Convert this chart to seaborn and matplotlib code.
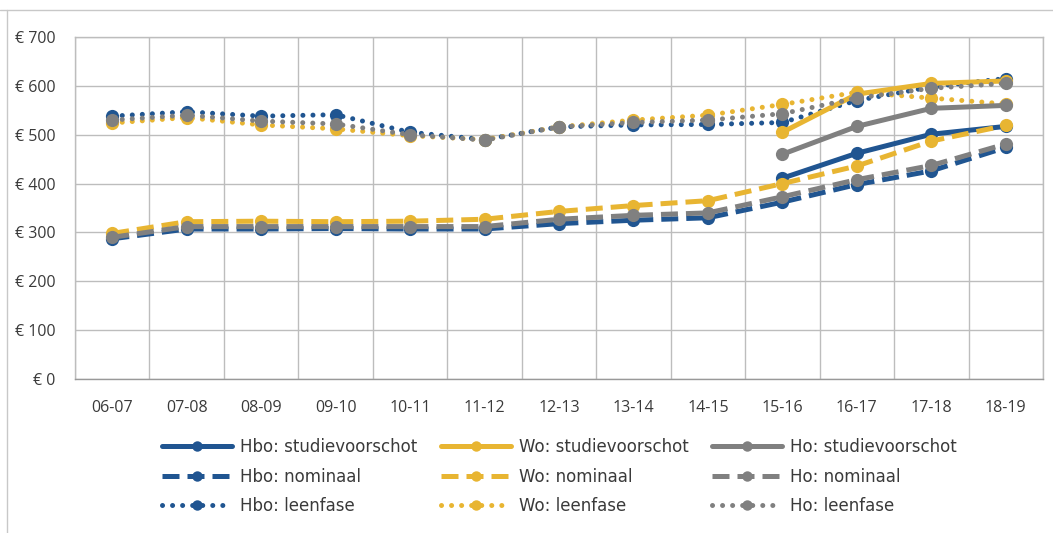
import matplotlib
matplotlib.use('Agg')
import matplotlib.pyplot as plt
from matplotlib.lines import Line2D
from matplotlib.ticker import MultipleLocator, FuncFormatter
import numpy as np
import seaborn as sns

sns.set_style('white')
plt.rcParams['font.family'] = ['Open Sans', 'DejaVu Sans']

# data
jaren = ['06-07', '07-08', '08-09', '09-10', '10-11', '11-12', '12-13',
         '13-14', '14-15', '15-16', '16-17', '17-18', '18-19']
nan = np.nan
hbo_studievoorschot = [nan, nan, nan, nan, nan, nan, nan, nan, nan, 411, 462, 501, 517]
wo_studievoorschot = [nan, nan, nan, nan, nan, nan, nan, nan, nan, 505, 583, 605, 610]
ho_studievoorschot = [nan, nan, nan, nan, nan, nan, nan, nan, nan, 460, 517, 554, 560]
hbo_nominaal = [287, 307, 307, 308, 307, 307, 318, 325, 330, 362, 398, 426, 474]
wo_nominaal = [298, 322, 323, 322, 323, 327, 343, 355, 365, 400, 436, 487, 519]
ho_nominaal = [290, 312, 312, 312, 312, 312, 327, 335, 340, 373, 408, 437, 481]
hbo_leenfase = [538, 547, 538, 541, 505, 490, 516, 520, 521, 525, 570, 598, 615]
wo_leenfase = [524, 535, 520, 512, 498, 490, 516, 530, 540, 562, 587, 575, 563]
ho_leenfase = [530, 540, 528, 522, 500, 489, 516, 525, 530, 543, 575, 595, 605]

blauw = '#205591'
geel = '#E8B532'
grijs = '#808080'

idx = np.arange(len(jaren))

fig = plt.figure(figsize=(10.53, 5.33), dpi=100)
ax = fig.add_axes([0.0712, 0.2889, 0.9193, 0.6417])

stippel = (0, (0.01, 2.0))
streep = (0, (3.4, 1.6))

reeksen = [
    (hbo_studievoorschot, blauw, '-', 'Hbo: studievoorschot'),
    (hbo_nominaal, blauw, streep, 'Hbo: nominaal'),
    (hbo_leenfase, blauw, stippel, 'Hbo: leenfase'),
    (wo_studievoorschot, geel, '-', 'Wo: studievoorschot'),
    (wo_nominaal, geel, streep, 'Wo: nominaal'),
    (wo_leenfase, geel, stippel, 'Wo: leenfase'),
    (ho_studievoorschot, grijs, '-', 'Ho: studievoorschot'),
    (ho_nominaal, grijs, streep, 'Ho: nominaal'),
    (ho_leenfase, grijs, stippel, 'Ho: leenfase'),
]

handles = []
for waarden, kleur, stijl, naam in reeksen:
    w = np.array(waarden, dtype=float)
    ok = ~np.isnan(w)
    kap = 'round' if stijl == stippel else 'butt'
    sns.lineplot(x=idx[ok], y=w[ok], ax=ax, color=kleur, linewidth=3.6,
                 marker='o', markersize=9.5, markeredgewidth=0,
                 legend=False)
    lijn = ax.lines[-1]
    lijn.set_linestyle(stijl)
    lijn.set_dash_capstyle(kap)
    lijn.set_solid_capstyle('round')
    handles.append(Line2D([], [], color=kleur, linewidth=3.6, linestyle=stijl,
                          dash_capstyle=kap, marker='o', markersize=7.5,
                          markeredgewidth=0, label=naam))

ax.set_xlim(-0.5, 12.5)
ax.set_ylim(0, 700)
ax.set_xticks(idx)
ax.set_xticklabels(jaren)
ax.xaxis.set_minor_locator(MultipleLocator(1, offset=0.5))
ax.yaxis.set_major_locator(MultipleLocator(100))
ax.yaxis.set_major_formatter(FuncFormatter(lambda v, p: '€ %d' % v))
ax.grid(which='major', axis='y', color='#bdbdbd', linewidth=1)
ax.grid(which='minor', axis='x', color='#bdbdbd', linewidth=1)
ax.tick_params(axis='both', which='both', length=0, labelsize=11.5,
               labelcolor='#3a3a3a')
ax.tick_params(axis='x', pad=15)
ax.tick_params(axis='y', pad=14)
for s in ax.spines.values():
    s.set_color('#bdbdbd')
    s.set_linewidth(1)
ax.spines['bottom'].set_color('#999999')
ax.set_xlabel('')
ax.set_ylabel('')

# legenda: kolom per onderwijssoort
leg = fig.legend(handles=handles, ncol=3, loc='upper left',
                 bbox_to_anchor=(0.146, 0.194), frameon=False,
                 prop={'family': ['DejaVu Sans'], 'size': 12},
                 handlelength=4.2, handletextpad=0.48,
                 columnspacing=1.4, labelspacing=0.7, borderpad=0)
for t in leg.get_texts():
    t.set_color('#3a3a3a')

# kader van de grafiek
fig.add_artist(Line2D([0, 1], [1 - 10 / 533, 1 - 10 / 533], color='#c8c8c8', linewidth=1))
fig.add_artist(Line2D([7 / 1053, 7 / 1053], [0, 1 - 10 / 533], color='#c8c8c8', linewidth=1))

fig.savefig('out.png', dpi=100)
